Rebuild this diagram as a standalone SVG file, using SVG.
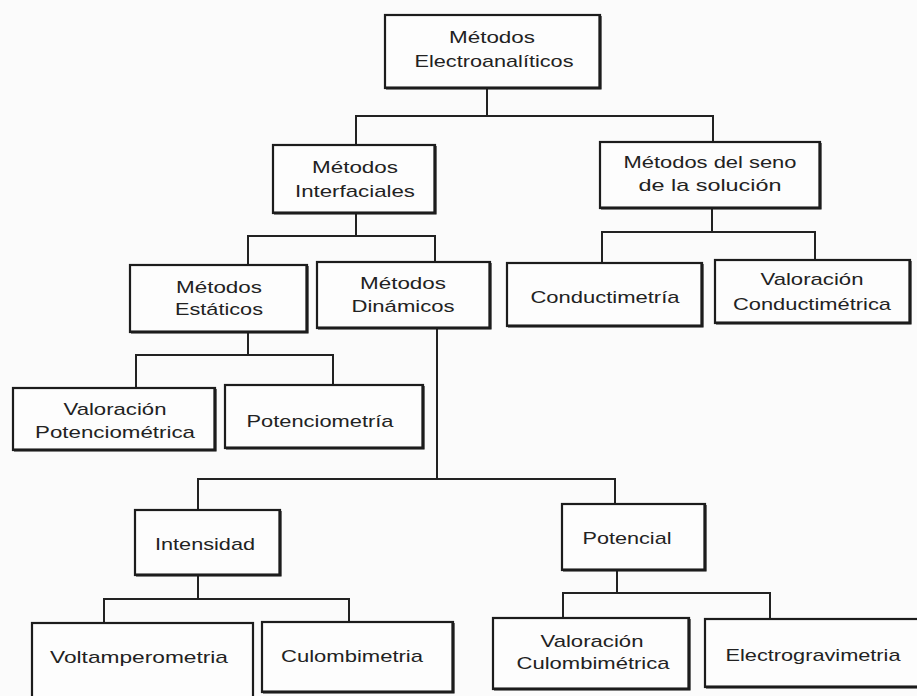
<svg xmlns="http://www.w3.org/2000/svg" width="917" height="696" viewBox="0 0 917 696">
<style>
.bg{fill:#fbfbfb}
.box{fill:#fdfdfd;stroke:#1c1c1c;stroke-width:2.2}
.sh{stroke:#1c1c1c;stroke-width:3.2;fill:none}
.ln{stroke:#222;stroke-width:2;fill:none;stroke-linecap:square}
text{font-family:"Liberation Sans",Arial,sans-serif;font-size:17px;fill:#222;text-anchor:middle}
</style>
<rect class="bg" x="0" y="0" width="917" height="696"/>
<g id="connectors">
<path class="ln" d="M487 88V116M356 116H713M356 116V145M713 116V142"/>
<path class="ln" d="M356 213V236M248 236H435M248 236V265M435 236V262"/>
<path class="ln" d="M712 208V232M602 232H815M602 232V263M815 232V260"/>
<path class="ln" d="M248 332V355M136 355H333M136 355V388M333 355V385"/>
<path class="ln" d="M437 328V479M198 479H615M198 479V510M615 479V504"/>
<path class="ln" d="M198 575V599M104 599H349M104 599V623M349 599V622"/>
<path class="ln" d="M617 570V593M563 593H770M563 593V618M770 593V619"/>
</g>
<g id="n-electroanaliticos">
<rect class="box" x="385" y="15" width="215" height="73"/>
<path class="sh" d="M386 88H600V16"/>
<text x="492" y="43" textLength="86" lengthAdjust="spacingAndGlyphs">Métodos</text>
<text x="494" y="67" textLength="159" lengthAdjust="spacingAndGlyphs">Electroanalíticos</text>
</g>
<g id="n-interfaciales">
<rect class="box" x="273" y="145" width="162" height="68"/>
<path class="sh" d="M274 213H435V146"/>
<text x="355" y="173" textLength="86" lengthAdjust="spacingAndGlyphs">Métodos</text>
<text x="355" y="197" textLength="120" lengthAdjust="spacingAndGlyphs">Interfaciales</text>
</g>
<g id="n-seno">
<rect class="box" x="600" y="142" width="220" height="66"/>
<path class="sh" d="M601 208H820V143"/>
<text x="710" y="168" textLength="173" lengthAdjust="spacingAndGlyphs">Métodos del seno</text>
<text x="710" y="191" textLength="143" lengthAdjust="spacingAndGlyphs">de la solución</text>
</g>
<g id="n-estaticos">
<rect class="box" x="130" y="265" width="177" height="67"/>
<path class="sh" d="M131 332H307V266"/>
<text x="219" y="293" textLength="86" lengthAdjust="spacingAndGlyphs">Métodos</text>
<text x="219" y="315" textLength="88" lengthAdjust="spacingAndGlyphs">Estáticos</text>
</g>
<g id="n-dinamicos">
<rect class="box" x="317" y="262" width="173" height="66"/>
<path class="sh" d="M318 328H490V263"/>
<text x="403" y="289" textLength="86" lengthAdjust="spacingAndGlyphs">Métodos</text>
<text x="403" y="312" textLength="103" lengthAdjust="spacingAndGlyphs">Dinámicos</text>
</g>
<g id="n-conductimetria">
<rect class="box" x="507" y="263" width="195" height="63"/>
<path class="sh" d="M508 326H702V264"/>
<text x="605" y="303" textLength="149" lengthAdjust="spacingAndGlyphs">Conductimetría</text>
</g>
<g id="n-val-conductimetrica">
<rect class="box" x="715" y="260" width="195" height="63"/>
<path class="sh" d="M716 323H910V261"/>
<text x="812" y="285" textLength="103" lengthAdjust="spacingAndGlyphs">Valoración</text>
<text x="812" y="310" textLength="158" lengthAdjust="spacingAndGlyphs">Conductimétrica</text>
</g>
<g id="n-val-potenciometrica">
<rect class="box" x="13" y="388" width="202" height="62"/>
<path class="sh" d="M14 450H215V389"/>
<text x="115" y="415" textLength="103" lengthAdjust="spacingAndGlyphs">Valoración</text>
<text x="115" y="438" textLength="160" lengthAdjust="spacingAndGlyphs">Potenciométrica</text>
</g>
<g id="n-potenciometria">
<rect class="box" x="225" y="385" width="198" height="63"/>
<path class="sh" d="M226 448H423V386"/>
<text x="320" y="427" textLength="147" lengthAdjust="spacingAndGlyphs">Potenciometría</text>
</g>
<g id="n-intensidad">
<rect class="box" x="135" y="510" width="145" height="65"/>
<path class="sh" d="M136 575H280V511"/>
<text x="205" y="550" textLength="100" lengthAdjust="spacingAndGlyphs">Intensidad</text>
</g>
<g id="n-potencial">
<rect class="box" x="562" y="504" width="143" height="66"/>
<path class="sh" d="M563 570H705V505"/>
<text x="627" y="544" textLength="89" lengthAdjust="spacingAndGlyphs">Potencial</text>
</g>
<g id="n-voltamperometria">
<rect class="box" x="32" y="623" width="221" height="80"/>
<text x="139" y="663" textLength="178" lengthAdjust="spacingAndGlyphs">Voltamperometria</text>
</g>
<g id="n-culombimetria">
<rect class="box" x="262" y="622" width="191" height="70"/>
<path class="sh" d="M263 692H453V623"/>
<text x="352" y="662" textLength="142" lengthAdjust="spacingAndGlyphs">Culombimetria</text>
</g>
<g id="n-val-culombimetrica">
<rect class="box" x="493" y="618" width="196" height="71"/>
<path class="sh" d="M494 689H689V619"/>
<text x="592" y="647" textLength="103" lengthAdjust="spacingAndGlyphs">Valoración</text>
<text x="593" y="669" textLength="153" lengthAdjust="spacingAndGlyphs">Culombimétrica</text>
</g>
<g id="n-electrogravimetria">
<rect class="box" x="705" y="619" width="220" height="68"/>
<path class="sh" d="M706 687H925"/>
<text x="813" y="661" textLength="175" lengthAdjust="spacingAndGlyphs">Electrogravimetria</text>
</g>
</svg>
